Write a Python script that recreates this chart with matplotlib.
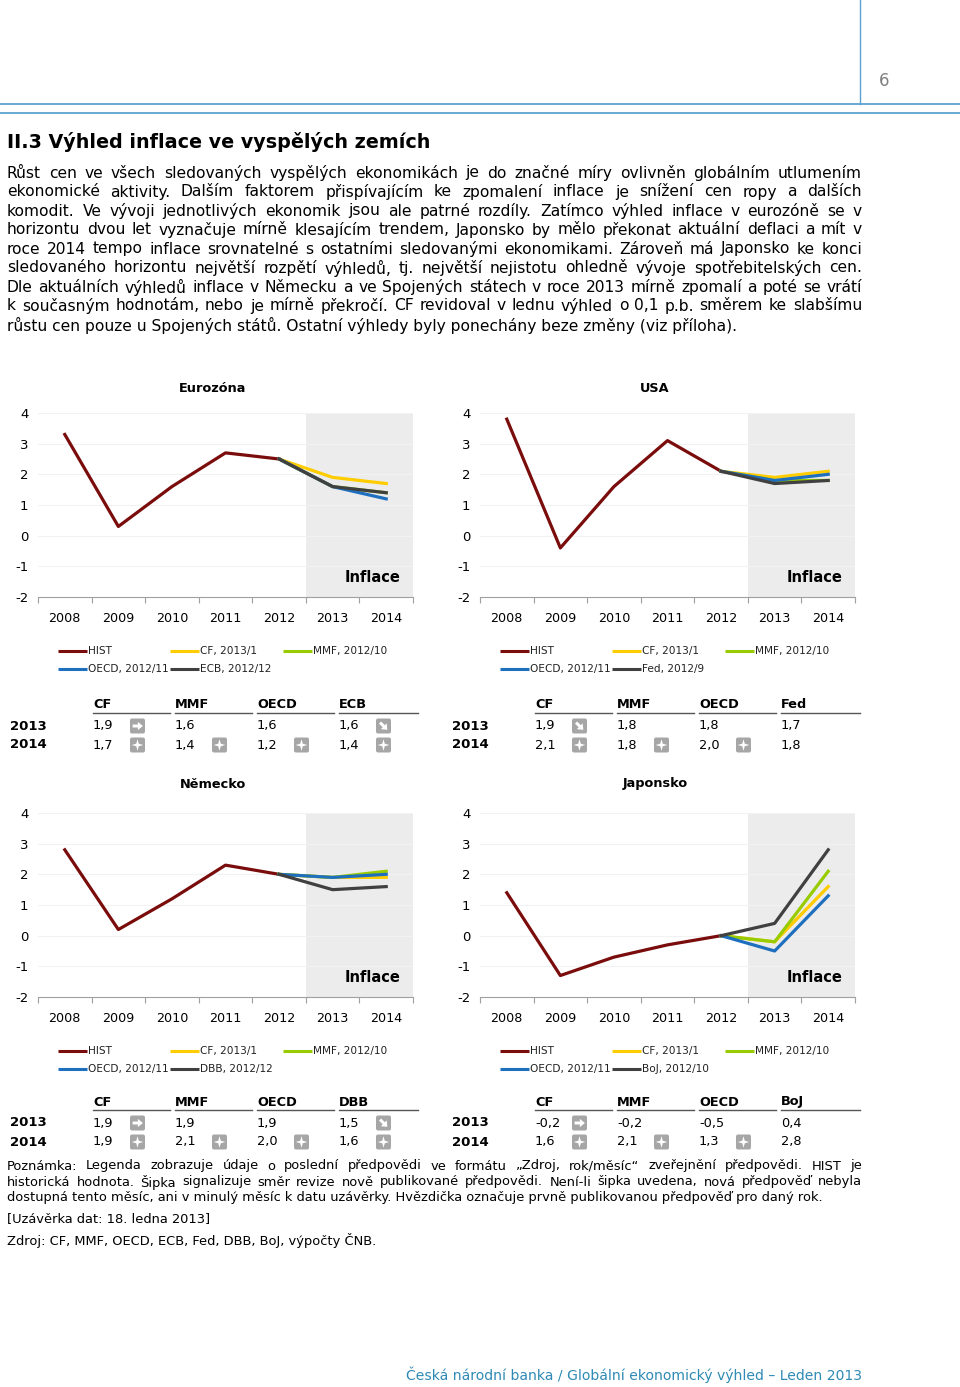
import numpy as np
import matplotlib
matplotlib.use('Agg')
import matplotlib.pyplot as plt
from matplotlib.patches import FancyBboxPatch, Polygon

W, H = 960, 1387

# data
years = ['2008', '2009', '2010', '2011', '2012', '2013', '2014']
titles = ['Eurozóna', 'USA', 'Německo', 'Japonsko']
sources = ['CF', 'MMF', 'OECD']
inst = ['ECB', 'Fed', 'DBB', 'BoJ']
src_dates = ['2013/1', '2012/10', '2012/11']
inst_dates = ['2012/12', '2012/9', '2012/12', '2012/10']

hist_ez = [3.3, 0.3, 1.6, 2.7, 2.5]
hist_us = [3.8, -0.4, 1.6, 3.1, 2.1]
hist_de = [2.8, 0.2, 1.2, 2.3, 2.0]
hist_jp = [1.4, -1.3, -0.7, -0.3, 0.0]

# forecasts for 2013, 2014: CF, MMF, OECD, national institution
fc_ez = [[1.9, 1.7], [1.6, 1.4], [1.6, 1.2], [1.6, 1.4]]
fc_us = [[1.9, 2.1], [1.8, 1.8], [1.8, 2.0], [1.7, 1.8]]
fc_de = [[1.9, 1.9], [1.9, 2.1], [1.9, 2.0], [1.5, 1.6]]
fc_jp = [[-0.2, 1.6], [-0.2, 2.1], [-0.5, 1.3], [0.4, 2.8]]

# revision icons: r = right arrow, d = down arrow, s = star (new), '' none
icons_ez = [['r', '', '', 'd'], ['s', 's', 's', 's']]
icons_us = [['d', '', '', ''], ['s', 's', 's', '']]
icons_de = [['r', '', '', 'd'], ['s', 's', 's', 's']]
icons_jp = [['r', '', '', ''], ['s', 's', 's', '']]

hists = [hist_ez, hist_us, hist_de, hist_jp]
fcs = [fc_ez, fc_us, fc_de, fc_jp]
icons = [icons_ez, icons_us, icons_de, icons_jp]

paragraph = [
    "Růst cen ve všech sledovaných vyspělých ekonomikách je do značné míry ovlivněn globálním utlumením",
    "ekonomické aktivity. Dalším faktorem přispívajícím ke zpomalení inflace je snížení cen ropy a dalších",
    "komodit. Ve vývoji jednotlivých ekonomik jsou ale patrné rozdíly. Zatímco výhled inflace v eurozóně se v",
    "horizontu dvou let vyznačuje mírně klesajícím trendem, Japonsko by mělo překonat aktuální deflaci a mít v",
    "roce 2014 tempo inflace srovnatelné s ostatními sledovanými ekonomikami. Zároveň má Japonsko ke konci",
    "sledovaného horizontu největší rozpětí výhledů, tj. největší nejistotu ohledně vývoje spotřebitelských cen.",
    "Dle aktuálních výhledů inflace v Německu a ve Spojených státech v roce 2013 mírně zpomalí a poté se vrátí",
    "k současným hodnotám, nebo je mírně překročí. CF revidoval v lednu výhled o 0,1 p.b. směrem ke slabšímu",
    "růstu cen pouze u Spojených států. Ostatní výhledy byly ponechány beze změny (viz příloha).",
]
note = [
    "Poznámka: Legenda zobrazuje údaje o poslední předpovědi ve formátu „Zdroj, rok/měsíc“ zveřejnění předpovědi. HIST je",
    "historická hodnota. Šipka signalizuje směr revize nově publikované předpovědi. Není-li šipka uvedena, nová předpověď nebyla",
    "dostupná tento měsíc, ani v minulý měsíc k datu uzávěrky. Hvězdička označuje prvně publikovanou předpověď pro daný rok.",
    "[Uzávěrka dat: 18. ledna 2013]",
    "Zdroj: CF, MMF, OECD, ECB, Fed, DBB, BoJ, výpočty ČNB.",
]

# colours
C_HIST = '#7a0c0c'
C_CF = '#ffcc00'
C_MMF = '#99cc00'
C_OECD = '#1f6fbf'
C_INST = '#404040'
line_colors = [C_CF, C_MMF, C_OECD, C_INST]
C_BLUE = '#5aa2cf'

plt.rcParams['font.family'] = ['DejaVu Sans']
plt.rcParams['axes.unicode_minus'] = False

fig = plt.figure(figsize=(W / 100, H / 100), dpi=100)
page = fig.add_axes([0, 0, 1, 1])
page.set_xlim(0, W)
page.set_ylim(H, 0)
page.axis('off')
renderer = fig.canvas.get_renderer()


def px_axes(x0, y0, w, h):
    return fig.add_axes([x0 / W, 1 - (y0 + h) / H, w / W, h / H])


def justify(text, x0, x1, y, size, stretch=True, **kw):
    if not stretch:
        page.text(x0, y, text, fontsize=size, va='center', ha='left', **kw)
        return
    words = text.split(' ')
    objs = [page.text(0, y, w, fontsize=size, va='center', ha='left', **kw) for w in words]
    widths = [o.get_window_extent(renderer).width for o in objs]
    gap = (x1 - x0 - sum(widths)) / (len(words) - 1)
    x = x0
    for o, w in zip(objs, widths):
        o.set_x(x)
        x += w + gap


# header
page.plot([0, W], [104, 104], color=C_BLUE, lw=1.3)
page.plot([0, W], [113, 113], color=C_BLUE, lw=1.3)
page.plot([860, 860], [0, 104], color=C_BLUE, lw=1.0)
page.text(884, 81, '6', fontsize=12, color='#808080', ha='center', va='center')

page.text(7, 142, 'II.3 Výhled inflace ve vyspělých zemích', fontsize=13.8,
          fontweight='bold', va='center', ha='left')

for i, line in enumerate(paragraph):
    justify(line, 7, 862, 173 + 19 * i, 11.2, stretch=(i < len(paragraph) - 1))


def icon(cx, cy, kind):
    page.add_patch(FancyBboxPatch((cx - 7.5, cy - 7.5), 15, 15,
                                  boxstyle='round,pad=0,rounding_size=2',
                                  fc='#a6a6a6', ec='none'))
    if kind == 's':
        ang = np.arange(8) * np.pi / 4
        rad = np.where(np.arange(8) % 2 == 0, 5.8, 1.8)
        pts = np.c_[cx + rad * np.cos(ang), cy + rad * np.sin(ang)]
    else:
        base = np.array([[-0.65, -0.2], [0.05, -0.2], [0.05, -0.55], [0.72, 0],
                         [0.05, 0.55], [0.05, 0.2], [-0.65, 0.2]]) * 7.5
        if kind == 'd':
            a = np.pi / 4
            rot = np.array([[np.cos(a), -np.sin(a)], [np.sin(a), np.cos(a)]])
            base = base @ rot.T
        pts = base + [cx, cy]
    page.add_patch(Polygon(pts, closed=True, fc='white', ec='none'))


x = np.arange(len(years))
dxs = [0, 442, 0, 442]
dys = [0, 0, 400, 400]
title_y = [389, 389, 784, 784]
table_dy = [0, 0, 397, 397]
col_left = [93, 175, 257, 339]
col_len = [77, 77, 77, 79]
leg_cols = [58, 170, 283]

for p in range(4):
    dx, dy = dxs[p], dys[p]
    ax = px_axes(38 + dx, 413 + dy, 375, 184)
    ax.set_xlim(-0.5, 6.5)
    ax.set_ylim(-2, 4)
    ax.axvspan(4.5, 6.5, color='#ececec', lw=0, zorder=0)
    for v in range(-1, 5):
        ax.axhline(v, color='#f2f2f2', lw=0.8, zorder=0.1)
    ax.plot(x[:5], hists[p], color=C_HIST, lw=2.3, zorder=3)
    for k in range(4):
        ax.plot(x[4:], [hists[p][-1]] + fcs[p][k], color=line_colors[k], lw=2.3, zorder=3)
    ax.set_xticks(x)
    ax.set_xticklabels(years)
    ax.set_xticks(np.arange(-0.5, 7, 1), minor=True)
    ax.set_yticks(range(-2, 5))
    ax.tick_params(axis='x', which='major', length=0, pad=11, labelsize=9.2)
    ax.tick_params(axis='x', which='minor', length=4, color='#a0a0a0', width=0.8)
    ax.tick_params(axis='y', length=0, pad=7, labelsize=9.5)
    for s in ['top', 'right', 'left']:
        ax.spines[s].set_visible(False)
    ax.spines['bottom'].set_color('#a0a0a0')
    ax.spines['bottom'].set_linewidth(0.8)
    ax.text(6.27, -1.35, 'Inflace', fontsize=10.5, fontweight='bold', ha='right', va='center')
    ax.set_facecolor('none')

    page.text(213 + dx, title_y[p], titles[p], fontsize=9.3, fontweight='bold',
              ha='center', va='center')

    # legend
    labels = ['HIST'] + [f'{s}, {d}' for s, d in zip(sources, src_dates)] + \
             [f'{inst[p]}, {inst_dates[p]}']
    colors = [C_HIST, C_CF, C_MMF, C_OECD, C_INST]
    for i, (lab, col) in enumerate(zip(labels, colors)):
        lx = leg_cols[i % 3] + dx
        ly = 651 + dy + 18 * (i // 3)
        page.plot([lx, lx + 29], [ly, ly], color=col, lw=2.2, solid_capstyle='butt')
        page.text(lx + 30, ly, lab, fontsize=7.6, va='center', ha='left', color='#222222')

    # table
    ty = table_dy[p]
    heads = sources + [inst[p]]
    for j, head in enumerate(heads):
        cx = col_left[j] + dx
        page.text(cx, 705 + ty, head, fontsize=9.3, fontweight='bold', va='center', ha='left')
        page.plot([cx, cx + col_len[j]], [713 + ty, 713 + ty], color='#555555', lw=1.0)
        for r in range(2):
            ry = 726 + ty + 19 * r
            val = f'{fcs[p][j][r]:.1f}'.replace('.', ',')
            page.text(cx, ry, val, fontsize=9.3, va='center', ha='left')
            if icons[p][r][j]:
                icon(cx + 44.5, ry, icons[p][r][j])
    for r, yr in enumerate(years[5:]):
        page.text(10 + dx, 726 + ty + 19 * r, yr, fontsize=9.5, fontweight='bold',
                  va='center', ha='left')

# note
for i, line in enumerate(note[:3]):
    justify(line, 7, 862, 1166 + 16 * i, 9.4, stretch=(i < 2))
page.text(7, 1219, note[3], fontsize=9.4, va='center', ha='left')
page.text(7, 1240, note[4], fontsize=9.4, va='center', ha='left')

# footer
page.text(862, 1375, 'Česká národní banka / Globální ekonomický výhled – Leden 2013',
          fontsize=10.1, color='#2f8ab5', va='center', ha='right')

fig.savefig('out.png', dpi=100)
